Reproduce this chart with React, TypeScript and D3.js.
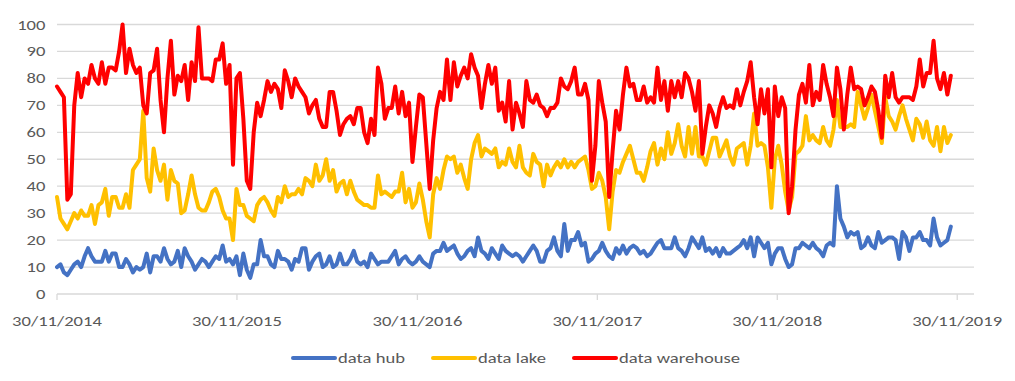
import React from 'react';
import * as d3 from 'd3';

// ---- data (weekly, starting 30/11/2014) ----
const startDate = new Date(2014, 10, 30);
const endDate = new Date(2020, 0, 3);

const dataHub = [
  10,11,8,7,9,11,12,10,14,17,
  14,12,12,12,16,12,15,15,10,10,
  13,11,8,10,9,10,15,8,14,14,
  12,17,13,11,12,16,10,17,14,12,
  9,11,13,12,10,12,14,13,18,12,
  13,11,14,7,15,9,6,11,11,20,
  14,14,11,10,16,13,13,12,9,13,
  12,17,17,9,12,14,15,10,11,14,
  10,11,15,11,11,13,16,12,11,12,
  10,15,13,11,12,12,12,14,16,11,
  13,14,12,11,12,14,12,11,10,15,
  16,16,19,16,17,18,15,13,14,16,
  17,14,21,16,15,13,17,15,13,18,
  16,15,14,15,14,12,14,16,18,16,
  12,12,16,17,21,16,14,26,16,20,
  20,23,18,19,12,13,15,16,19,16,
  14,13,17,15,18,15,17,18,17,15,
  16,14,15,17,19,20,17,17,17,21,
  17,16,14,17,21,19,17,21,16,17,
  15,17,14,17,15,15,16,17,18,20,
  17,21,14,21,19,17,19,11,15,17,
  17,13,10,11,17,17,19,18,17,19,
  17,16,14,18,19,18,40,28,25,21,
  23,22,23,17,18,21,18,17,23,19,
  20,21,21,20,13,23,21,16,21,21,
  23,20,20,18,28,21,18,19,20,25,
];

const dataLake = [
  36,28,26,24,27,30,28,31,29,29,
  33,26,33,34,39,29,36,36,32,32,
  37,32,46,48,50,68,43,38,54,46,
  42,48,35,46,42,41,30,31,37,44,
  37,32,31,31,34,38,39,36,31,28,
  28,20,39,33,33,29,28,27,33,35,
  36,34,31,29,36,34,40,36,37,37,
  39,37,43,42,40,48,42,44,50,42,
  46,38,41,42,37,42,38,35,34,33,
  33,32,32,44,37,38,37,36,38,38,
  45,34,39,32,34,41,35,27,21,37,
  43,39,46,51,50,51,45,48,43,39,
  50,56,59,51,54,53,52,54,47,49,
  48,54,49,47,55,47,45,44,52,49,
  48,40,48,44,47,49,47,50,47,49,
  47,49,50,51,46,39,40,45,42,36,
  24,38,46,45,49,52,55,50,45,45,
  42,47,53,56,48,54,50,60,52,56,
  63,55,51,62,52,62,51,51,48,53,
  58,58,51,54,57,51,48,54,55,56,
  48,55,67,55,56,55,47,32,50,55,
  48,38,31,36,52,53,55,66,57,59,
  57,56,62,57,55,61,72,62,62,62,
  63,62,75,70,65,69,74,68,62,56,
  73,66,64,61,66,70,65,61,57,65,
  63,58,64,57,55,62,53,62,56,59,
];

const dataWarehouse = [
  77,75,73,35,37,70,82,73,80,78,
  85,80,78,86,78,84,84,83,90,100,
  82,91,85,82,84,70,67,82,83,91,
  72,60,80,94,74,81,79,85,72,86,
  79,99,80,80,80,79,87,87,93,78,
  85,48,80,82,65,42,39,60,71,66,
  72,79,75,78,76,69,83,79,73,80,
  77,75,73,67,70,72,65,62,62,75,
  75,68,59,63,65,66,63,69,69,60,
  56,65,59,84,78,65,69,69,77,67,
  75,66,71,49,62,74,73,56,39,57,
  69,75,72,87,72,86,77,81,84,80,
  89,84,81,69,78,85,78,84,68,71,
  64,79,61,71,67,62,79,72,71,74,
  70,69,66,69,69,71,80,77,76,79,
  84,74,74,78,72,42,55,79,71,64,
  36,53,68,61,74,84,77,78,72,72,
  77,71,73,71,84,72,79,68,79,73,
  79,73,82,80,75,68,79,52,62,70,
  67,62,69,73,69,70,69,76,70,75,
  79,86,73,63,76,67,76,47,77,66,
  73,69,30,40,61,74,78,71,85,70,
  75,72,85,78,73,66,84,76,61,74,
  84,76,77,76,70,73,77,75,68,58,
  81,73,82,73,71,73,73,73,72,77,
  87,77,82,82,94,80,76,82,74,81,
];

const seriesNames = ['data hub', 'data lake', 'data warehouse'];
const seriesColors = ['#4472C4', '#FFC000', '#FF0000'];
const yTicks = [0, 10, 20, 30, 40, 50, 60, 70, 80, 90, 100];
const xTickYears = [2014, 2015, 2016, 2017, 2018, 2019];

// ---- layout ----
const W = 1015;
const H = 381;
const plotLeft = 57;
const plotRight = 974;
const plotTop = 24.5;
const plotBottom = 294;
const textScale = 1.33;
const fontSize = 14;
const fontFamily = 'Carlito, Calibri, Lato, sans-serif';
const textColor = '#595959';
const legendStarts = [293, 433, 574];

export default function App() {
  const x = d3.scaleTime().domain([startDate, endDate]).range([plotLeft, plotRight]);
  const y = d3.scaleLinear().domain([0, 100]).range([plotBottom, plotTop]);
  const dates = d3.range(dataHub.length).map((i) => d3.timeWeek.offset(startDate, i));
  const fmt = d3.timeFormat('%d/%m/%Y');
  const series = [dataHub, dataLake, dataWarehouse];
  const line = d3
    .line<number>()
    .x((_, i) => x(dates[i]))
    .y((d) => y(d));
  const xTicks = xTickYears.map((yr) => new Date(yr, 10, 30));

  return (
    <svg
      width={W}
      height={H}
      style={{ position: 'absolute', left: 0, top: 0, background: '#fff' }}
    >
      <rect x={0} y={0} width={W} height={H} fill="#fff" />
      {yTicks.map((t) => (
        <g key={'g' + t}>
          <line
            x1={plotLeft}
            x2={plotRight}
            y1={y(t)}
            y2={y(t)}
            stroke="#d9d9d9"
            strokeWidth={1.3}
          />
          <text
            transform={`translate(45.5,${y(t) + 5}) scale(${textScale},1)`}
            textAnchor="end"
            fontFamily={fontFamily}
            fontSize={fontSize}
            fill={textColor}
          >
            {t}
          </text>
        </g>
      ))}
      {xTicks.map((d, i) => (
        <g key={'x' + i}>
          <line
            x1={x(d)}
            x2={x(d)}
            y1={plotBottom}
            y2={plotBottom + 6}
            stroke="#d9d9d9"
            strokeWidth={1.3}
          />
          <text
            transform={`translate(${x(d)},${325.5}) scale(${textScale},1)`}
            textAnchor="middle"
            fontFamily={fontFamily}
            fontSize={fontSize}
            fill={textColor}
          >
            {fmt(d)}
          </text>
        </g>
      ))}
      {series.map((s, k) => (
        <path
          key={'s' + k}
          d={line(s) || ''}
          fill="none"
          stroke={seriesColors[k]}
          strokeWidth={4}
          strokeLinejoin="round"
          strokeLinecap="round"
        />
      ))}
      {seriesNames.map((name, k) => (
        <g key={'l' + k}>
          <line
            x1={legendStarts[k]}
            x2={legendStarts[k] + 42}
            y1={358}
            y2={358}
            stroke={seriesColors[k]}
            strokeWidth={4}
            strokeLinecap="round"
          />
          <text
            transform={`translate(${legendStarts[k] + 45},${363}) scale(${textScale},1)`}
            fontFamily={fontFamily}
            fontSize={fontSize}
            fill={textColor}
          >
            {name}
          </text>
        </g>
      ))}
    </svg>
  );
}
